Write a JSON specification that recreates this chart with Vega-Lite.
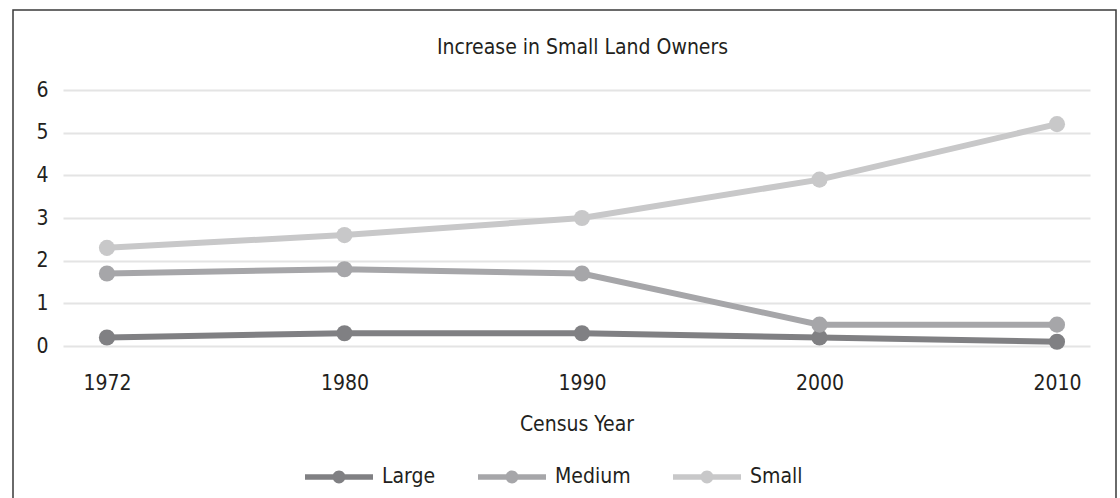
{
  "$schema": "https://vega.github.io/schema/vega-lite/v6.json",
  "width": 1103,
  "height": 490,
  "autosize": {"type": "none"},
  "padding": {"left": 13, "top": 10, "right": 4, "bottom": 0},
  "background": "white",
  "config": {
    "font": "'Liberation Sans Narrow', 'DejaVu Sans Condensed', sans-serif",
    "view": {"stroke": "#3a3a3a", "strokeWidth": 1.5, "fill": "white"}
  },
  "title": {
    "text": "Increase in Small Land Owners",
    "anchor": "middle",
    "frame": "group",
    "orient": "top",
    "offset": -59,
    "baseline": "middle",
    "dx": 18,
    "fontSize": 21,
    "fontWeight": "normal",
    "color": "#231f20"
  },
  "data": {
    "values": [
      {"year": "1972", "size": "Large", "value": 0.2},
      {"year": "1980", "size": "Large", "value": 0.3},
      {"year": "1990", "size": "Large", "value": 0.3},
      {"year": "2000", "size": "Large", "value": 0.2},
      {"year": "2010", "size": "Large", "value": 0.1},
      {"year": "1972", "size": "Medium", "value": 1.7},
      {"year": "1980", "size": "Medium", "value": 1.8},
      {"year": "1990", "size": "Medium", "value": 1.7},
      {"year": "2000", "size": "Medium", "value": 0.5},
      {"year": "2010", "size": "Medium", "value": 0.5},
      {"year": "1972", "size": "Small", "value": 2.3},
      {"year": "1980", "size": "Small", "value": 2.6},
      {"year": "1990", "size": "Small", "value": 3.0},
      {"year": "2000", "size": "Small", "value": 3.9},
      {"year": "2010", "size": "Small", "value": 5.2}
    ]
  },
  "encoding": {
    "x": {
      "field": "year",
      "type": "ordinal",
      "scale": {"type": "point", "range": [50, 1077], "padding": 0.162, "align": 0.571},
      "axis": {
        "orient": "bottom",
        "offset": -128,
        "domain": false,
        "ticks": false,
        "grid": false,
        "labelAngle": 0,
        "labelPadding": 0,
        "labelBaseline": "top",
        "labelFontSize": 21,
        "labelColor": "#231f20",
        "title": "Census Year",
        "titleFontSize": 21,
        "titleFontWeight": "normal",
        "titleColor": "#231f20",
        "titlePadding": 20
      }
    },
    "y": {
      "field": "value",
      "type": "quantitative",
      "scale": {"domain": [0, 6], "range": [336, 80], "nice": false},
      "axis": {
        "orient": "left",
        "offset": -35,
        "values": [0, 1, 2, 3, 4, 5, 6],
        "domain": false,
        "ticks": false,
        "labelPadding": 0,
        "labelFontSize": 21,
        "labelColor": "#231f20",
        "gridColor": "#e4e4e4",
        "gridWidth": 2,
        "title": null
      }
    },
    "color": {
      "field": "size",
      "type": "nominal",
      "scale": {"domain": ["Large", "Medium", "Small"], "range": ["#808083", "#a6a6a9", "#c8c8c9"]},
      "legend": {
        "title": null,
        "orient": "none",
        "direction": "horizontal",
        "legendX": 292,
        "legendY": 433,
        "symbolType": "M-1,-0.08H1V0.08H-1Z M0.19,0A0.19,0.19,0,1,1,-0.19,0A0.19,0.19,0,1,1,0.19,0Z",
        "symbolSize": 4624,
        "symbolStrokeWidth": 0,
        "symbolOpacity": 1,
        "labelFontSize": 21,
        "labelColor": "#231f20",
        "labelOffset": 9,
        "columnPadding": 42
      }
    }
  },
  "layer": [
    {"mark": {"type": "line", "strokeWidth": 6}},
    {"mark": {"type": "point", "filled": true, "size": 260, "opacity": 1}}
  ]
}
